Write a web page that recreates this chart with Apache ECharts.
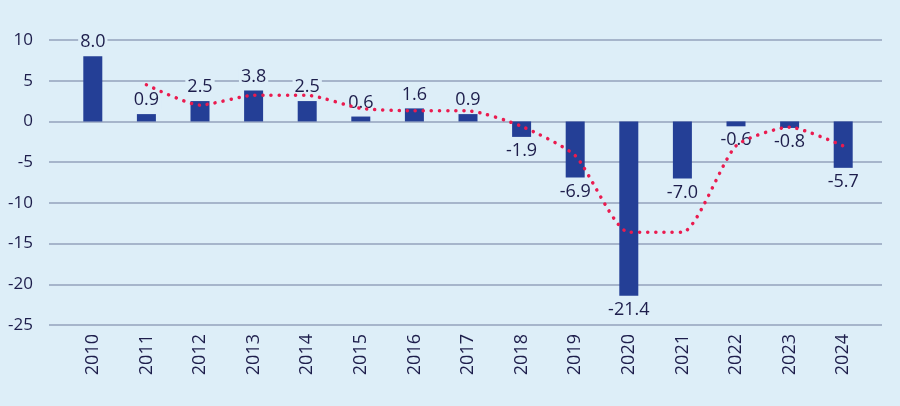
<!DOCTYPE html>
<html><head><meta charset="utf-8">
<script src="https://cdn.jsdelivr.net/npm/echarts@6/dist/echarts.min.js"></script>
<style>html,body{margin:0;padding:0;background:#ddeef8;}#c{width:900px;height:406px;}</style>
</head><body><div id="c"></div>
<script>
const years = ['2010','2011','2012','2013','2014','2015','2016','2017','2018','2019','2020','2021','2022','2023','2024'];
const growth = [8.0, 0.9, 2.5, 3.8, 2.5, 0.6, 1.6, 0.9, -1.9, -6.9, -21.4, -7.0, -0.6, -0.8, -5.7];
const trend = [null, 4.5, 2.0, 3.2, 3.2, 1.6, 1.3, 1.3, -0.6, -4.2, -13.6, -13.6, -3.0, -0.7, -3.0];
const yTicks = {min: -25, max: 10, interval: 5};

const BG = '#ddeef8';
const TXT = '#1d1d4b';
const FONT = 'Open Sans';
const chart = echarts.init(document.getElementById('c'));
chart.setOption({
  backgroundColor: BG,
  animation: false,
  textStyle: {fontFamily: FONT},
  grid: [
    {left: 66, right: 30, top: 40, height: 285},
    {left: 49, right: 18, top: 40, height: 285}
  ],
  xAxis: [
    {type: 'category', gridIndex: 0, data: years, boundaryGap: true,
     axisLine: {show: false}, axisTick: {show: false},
     axisLabel: {rotate: 90, margin: 9, fontSize: 18, color: TXT, fontFamily: FONT}},
    {type: 'value', gridIndex: 1, min: 0, max: 1, show: false}
  ],
  yAxis: [
    {type: 'value', gridIndex: 0, min: yTicks.min, max: yTicks.max, interval: yTicks.interval,
     axisLabel: {show: false}, splitLine: {show: false}, axisLine: {show: false}, axisTick: {show: false}},
    {type: 'value', gridIndex: 1, min: yTicks.min, max: yTicks.max, interval: yTicks.interval, z: 0,
     axisLine: {show: false}, axisTick: {show: false},
     axisLabel: {fontSize: 17, color: TXT, margin: 16, fontFamily: FONT},
     splitLine: {lineStyle: {color: '#a6b5cb', width: 2}}}
  ],
  series: [
    {type: 'bar', xAxisIndex: 0, yAxisIndex: 0, barWidth: 19, z: 2,
     data: growth.map(v => v < 0 ? {value: v, label: {position: 'bottom'}} : v),
     itemStyle: {color: '#243f96'},
     label: {show: true, formatter: p => p.value.toFixed(1), fontSize: 18, color: TXT, fontFamily: FONT,
       backgroundColor: BG, padding: [0, 2], distance: 5, position: 'top'}
    },
    {type: 'line', xAxisIndex: 0, yAxisIndex: 0, data: trend, smooth: 0.2, symbol: 'none', z: 3,
     lineStyle: {color: '#ea1b4f', width: 3.5, type: [0.1, 8], cap: 'round'}}
  ]
});
</script></body></html>
